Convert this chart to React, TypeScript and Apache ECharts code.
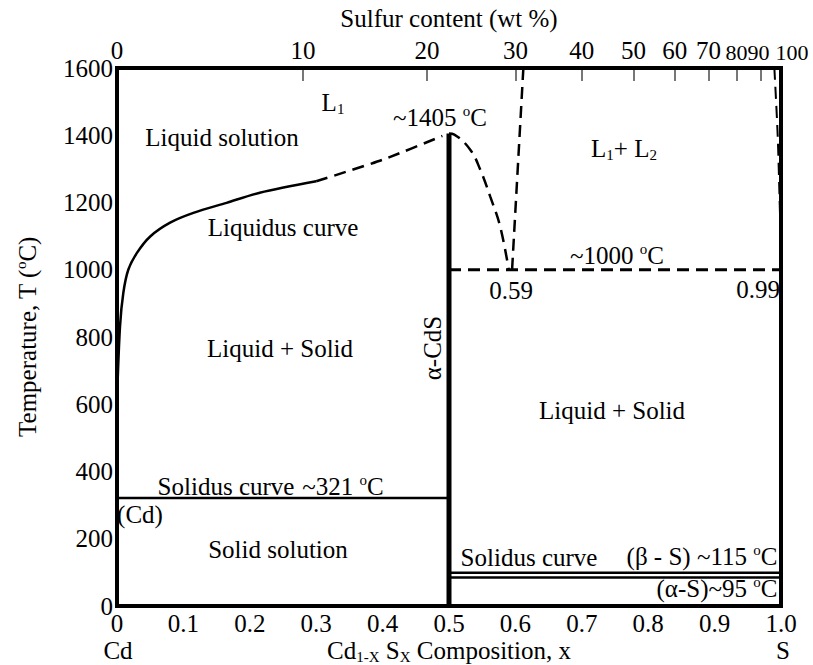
import React, { useEffect, useRef } from "react";
import * as echarts from "echarts";

// ---- data ----
const xTickLabels = ["0", "0.1", "0.2", "0.3", "0.4", "0.5", "0.6", "0.7", "0.8", "0.9", "1.0"];
const topTickX = [0, 0.28, 0.467, 0.6, 0.7, 0.778, 0.84, 0.891, 0.933, 0.969, 1.0];
const topTickLabels = ["0", "10", "20", "30", "40", "50", "60", "70", "80", "90", "100"];

const liquidusX = [0, 0.0045, 0.0095, 0.017, 0.03, 0.05, 0.08, 0.115, 0.165, 0.215, 0.3];
const liquidusT = [613, 831, 931, 1000, 1050, 1099, 1140, 1169, 1199, 1229, 1263];
const liquidusDashX = [0.3, 0.4, 0.49];
const liquidusDashT = [1263, 1327, 1398];
const domeX = [0.5, 0.508, 0.532, 0.547, 0.562, 0.577, 0.59];
const domeT = [1405, 1402, 1357, 1298, 1218, 1129, 1000];
const missX = [0.595, 0.612];
const missT = [1000, 1600];
const rightX = [0.99, 0.995, 0.998, 1.0];
const rightT = [1600, 1400, 1200, 1050];
const monotecticX = [0.5, 1.0];
const monotecticT = [1000, 1000];
const cdsX = [0.5, 0.5];
const cdsT = [0, 1405];
const cdSolidusX = [0, 0.5];
const cdSolidusT = [321, 321];
const betaSX = [0.5, 1.0];
const betaST = [99, 99];
const alphaSX = [0.5, 1.0];
const alphaST = [85, 85];

const FF = "Liberation Serif";
const FS = 25;

const pairs = (xs: number[], ys: number[]) => xs.map((x, i) => [x, ys[i]]);

const richBase = {
  a: { fontSize: FS, fontFamily: FF, color: "#000", lineHeight: 28 },
  sup: { fontSize: 15, fontFamily: FF, color: "#000", verticalAlign: "top", lineHeight: 28 },
  sub: { fontSize: 15, fontFamily: FF, color: "#000", verticalAlign: "bottom", lineHeight: 28 },
};

export default function App() {
  const ref = useRef<HTMLDivElement>(null);
  useEffect(() => {
    if (!ref.current) return;
    const chart = echarts.init(ref.current, null, { renderer: "svg" });

    const txt = (x: number, y: number, text: string, rotation = 0) => ({
      type: "text",
      x,
      y,
      silent: true,
      rotation,
      style: {
        text,
        fill: "#000",
        font: `${FS}px ${FF}`,
        fontSize: FS,
        fontFamily: FF,
        align: "center",
        verticalAlign: "middle",
        rich: {
          sup: { fontSize: 15, fontFamily: FF, fill: "#000", verticalAlign: "top", lineHeight: 28 },
          sub: { fontSize: 15, fontFamily: FF, fill: "#000", verticalAlign: "bottom", lineHeight: 28 },
          a: { fontSize: FS, fontFamily: FF, fill: "#000", lineHeight: 28 },
        },
      },
    });

    const lineSeries = (name: string, xs: number[], ys: number[], width: number, dashed: boolean, smooth: number | boolean = false) => ({
      name,
      type: "line",
      data: pairs(xs, ys),
      showSymbol: false,
      smooth,
      silent: true,
      lineStyle: {
        color: "#000",
        width,
        type: dashed ? [12, 7] : "solid",
        cap: "butt",
      },
      z: 3,
    });

    const option: any = {
      animation: false,
      backgroundColor: "#fff",
      textStyle: { fontFamily: FF, color: "#000" },
      grid: {
        left: 117,
        top: 68,
        width: 664,
        height: 538,
        containLabel: false,
        outerBoundsMode: "none",
        show: true,
        borderColor: "#000",
        borderWidth: 4,
        backgroundColor: "transparent",
        z: 10,
      },
      xAxis: [
        {
          type: "value",
          min: 0,
          max: 1,
          interval: 0.1,
          position: "bottom",
          axisLine: { show: false },
          axisTick: { show: false },
          splitLine: { show: false },
          axisLabel: {
            fontSize: FS,
            fontFamily: FF,
            color: "#000",
            margin: 5,
            showMinLabel: true,
            showMaxLabel: true,
            formatter: (v: number) => xTickLabels[Math.round(v * 10)] ?? "",
          },
          name: "{a|Cd}{sub|1-X}{a| S}{sub|X}{a| Composition, x}",
          nameLocation: "middle",
          nameGap: 30,
          nameMoveOverlap: false,
          nameTextStyle: { rich: richBase },
        },
        {
          type: "value",
          min: 0,
          max: 1,
          position: "top",
          axisLine: { show: false },
          splitLine: { show: false },
          axisTick: {
            show: true,
            inside: true,
            length: 13,
            customValues: topTickX,
            lineStyle: { color: "#777", width: 2 },
          },
          axisLabel: {
            show: true,
            customValues: topTickX,
            interval: 0,
            hideOverlap: false,
            showMinLabel: true,
            showMaxLabel: true,
            fontSize: FS,
            fontFamily: FF,
            color: "#000",
            margin: 5,
            rich: {
              sm: { fontSize: 22, fontFamily: FF, color: "#000" },
              last: { fontSize: 22, fontFamily: FF, color: "#000", padding: [0, 0, 0, 22] },
              prev: { fontSize: 22, fontFamily: FF, color: "#000", padding: [0, 4, 0, 0] },
            },
            formatter: (v: number) => {
              let best = 0;
              topTickX.forEach((t, i) => {
                if (Math.abs(t - v) < Math.abs(topTickX[best] - v)) best = i;
              });
              const n = topTickX.length;
              if (best === n - 1) return `{last|${topTickLabels[best]}}`;
              if (best === n - 2) return `{prev|${topTickLabels[best]}}`;
              if (best === n - 3) return `{sm|${topTickLabels[best]}}`;
              return topTickLabels[best];
            },
          },
          name: "Sulfur content (wt %)",
          nameLocation: "middle",
          nameGap: 37,
          nameMoveOverlap: false,
          nameTextStyle: { fontSize: FS, fontFamily: FF, color: "#000" },
        },
      ],
      yAxis: {
        type: "value",
        min: 0,
        max: 1600,
        interval: 200,
        axisLine: { show: false },
        axisTick: { show: false },
        splitLine: { show: false },
        axisLabel: {
          fontSize: FS,
          fontFamily: FF,
          color: "#000",
          margin: 4,
          formatter: (v: number) => String(v),
        },
        name: "{a|Temperature, T (}{sup|o}{a|C)}",
        nameLocation: "middle",
        nameGap: 76,
        nameRotate: 90,
        nameMoveOverlap: false,
        nameTextStyle: { rich: richBase },
      },
      series: [
        lineSeries("Liquidus curve", liquidusX, liquidusT, 2.5, false, 0.3),
        lineSeries("Liquidus (dashed)", liquidusDashX, liquidusDashT, 2.5, true, 0.2),
        lineSeries("Dome", domeX, domeT, 2.5, true, 0.4),
        lineSeries("Miscibility", missX, missT, 2.5, true),
        lineSeries("Right boundary", rightX, rightT, 2, true, 0.3),
        lineSeries("~1000 C", monotecticX, monotecticT, 3, true),
        lineSeries("alpha-CdS", cdsX, cdsT, 5, false),
        lineSeries("~321 C", cdSolidusX, cdSolidusT, 2.5, false),
        lineSeries("beta-S", betaSX, betaST, 2.5, false),
        lineSeries("alpha-S", alphaSX, alphaST, 2.5, false),
      ],
      graphic: [
        txt(333, 102, "{a|L}{sub|1}"),
        txt(222, 137, "{a|Liquid solution}"),
        txt(440, 117, "{a|~1405 }{sup|o}{a|C}"),
        txt(624, 148, "{a|L}{sub|1}{a|+ L}{sub|2}"),
        txt(283, 227, "{a|Liquidus curve}"),
        txt(617, 255, "{a|~1000 }{sup|o}{a|C}"),
        txt(511, 290, "{a|0.59}"),
        txt(758, 289, "{a|0.99}"),
        txt(280, 348, "{a|Liquid + Solid}"),
        txt(432, 348, "{a|α-CdS}", Math.PI / 2),
        txt(612, 410, "{a|Liquid + Solid}"),
        txt(226, 486, "{a|Solidus curve}"),
        txt(343, 486, "{a|~321 }{sup|o}{a|C}"),
        txt(140, 514, "{a|(Cd)}"),
        txt(278, 549, "{a|Solid solution}"),
        txt(529, 557, "{a|Solidus curve}"),
        txt(702, 556, "{a|(β - S) ~115 }{sup|o}{a|C}"),
        txt(717, 588, "{a|(α-S)~95 }{sup|o}{a|C}"),
        txt(118, 650, "{a|Cd}"),
        txt(783, 650, "{a|S}"),
      ],
    };

    chart.setOption(option);
    return () => chart.dispose();
  }, []);

  return (
    <div
      ref={ref}
      style={{ position: "fixed", left: 0, top: 0, width: 813, height: 665, background: "#fff" }}
    />
  );
}
